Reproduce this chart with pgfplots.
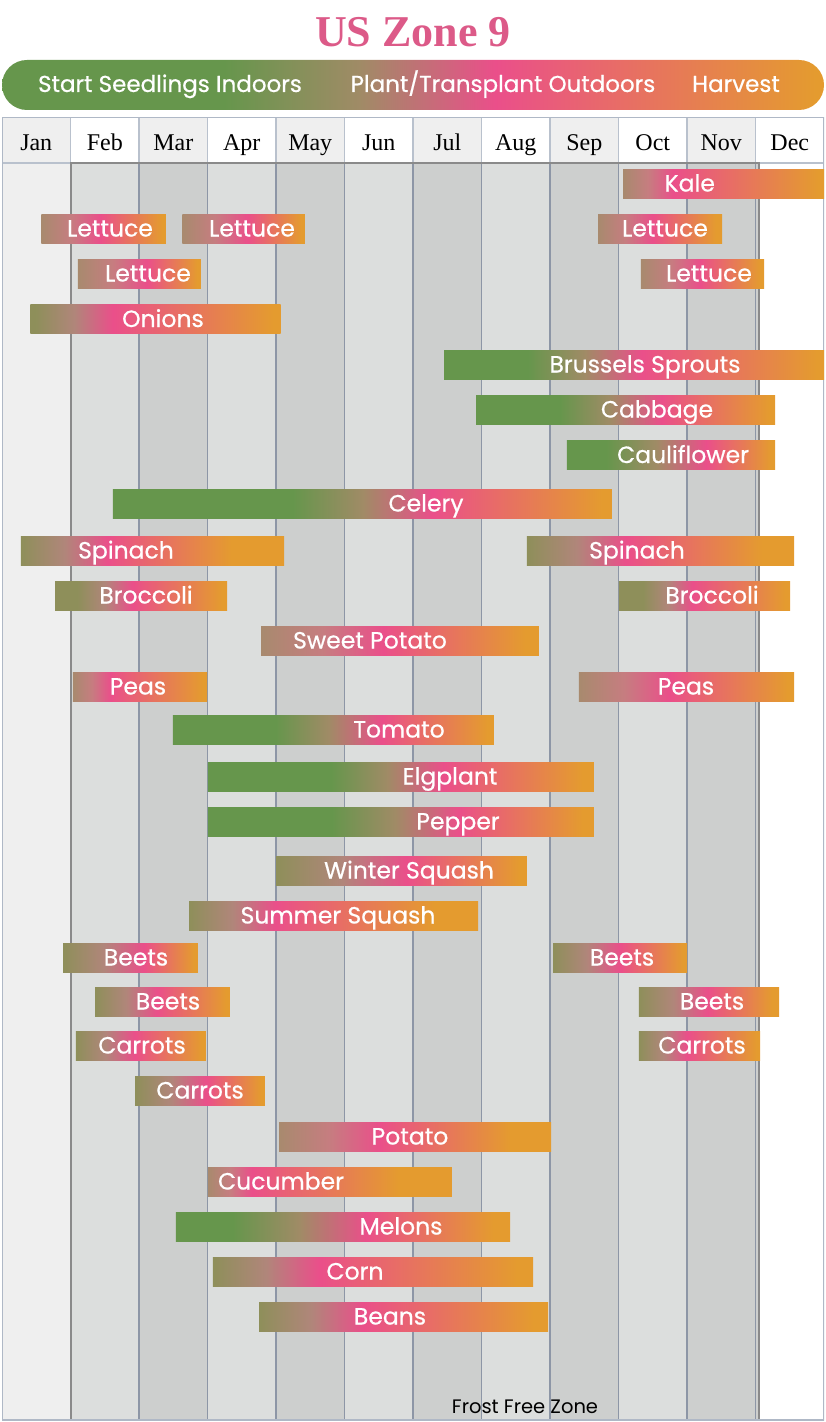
\documentclass[border=0pt]{standalone}
\usepackage{pgfplots}
\pgfplotsset{compat=1.18}
\usepackage{fontspec}
\setmainfont{Liberation Serif}
\newfontfamily\pop{Poppins}[FakeBold=0.6]
\newfontfamily\popr{Poppins}

\definecolor{cgreen}{HTML}{66964C}
\definecolor{colive}{HTML}{8E8F5A}
\definecolor{ctan}{HTML}{A88A6E}
\definecolor{cmidA}{HTML}{A08B66}
\definecolor{cmidB}{HTML}{B0867A}
\definecolor{cmidT}{HTML}{C67D80}
\definecolor{cpink}{HTML}{EA4F8A}
\definecolor{corange}{HTML}{E49B2F}
\definecolor{ctitle}{HTML}{DC5A88}
\definecolor{cjan}{HTML}{EFEFEF}
\definecolor{clight}{HTML}{DCDEDD}
\definecolor{cdark}{HTML}{CDCFCE}
\definecolor{cgridL}{HTML}{B9C1CD}
\definecolor{cgridD}{HTML}{8D96A6}
\definecolor{cframe}{HTML}{8A8A8A}
\definecolor{cborder}{HTML}{AFB8C6}

% gradient of each bar: name, start colour, middle colour, end of start colour, pink stop, orange stop (fractions of bar length)
\newcommand\defshade[6]{%
  \pgfmathsetmacro\sA{25+50*#4}%
  \pgfmathsetmacro\sM{25+50*(#4+#5)/2}%
  \pgfmathsetmacro\sP{25+50*#5}%
  \pgfmathsetmacro\sO{25+50*#6}%
  \edef\tmp{\noexpand\pgfdeclarehorizontalshading{#1}{100bp}{color(0bp)=(#2); color(\sA bp)=(#2); color(\sM bp)=(#3); color(\sP bp)=(cpink); color(\sO bp)=(corange); color(100bp)=(corange)}}\tmp}

\defshade{legshade}{cgreen}{cmidA}{0.27}{0.60}{0.99}
\defshade{kale}{ctan}{cmidT}{0}{0.25}{0.97}
\defshade{let1a}{ctan}{cmidT}{0}{0.47}{0.97}
\defshade{let1b}{ctan}{cmidT}{0}{0.53}{0.97}
\defshade{let1c}{ctan}{cmidT}{0}{0.44}{0.95}
\defshade{let2a}{ctan}{cmidT}{0}{0.56}{0.97}
\defshade{let2b}{ctan}{cmidT}{0}{0.48}{0.97}
\defshade{onions}{colive}{cmidB}{0.02}{0.33}{0.97}
\defshade{brussels}{cgreen}{cmidA}{0.22}{0.52}{0.98}
\defshade{cabbage}{cgreen}{cmidA}{0.28}{0.62}{0.98}
\defshade{cauli}{cgreen}{cmidA}{0.19}{0.67}{0.98}
\defshade{celery}{cgreen}{cmidA}{0.36}{0.64}{0.98}
\defshade{spina}{colive}{cmidB}{0}{0.33}{0.80}
\defshade{spinb}{colive}{cmidB}{0}{0.37}{0.88}
\defshade{broca}{colive}{cmidB}{0.13}{0.45}{0.97}
\defshade{brocb}{colive}{cmidB}{0.14}{0.43}{0.97}
\defshade{sweet}{ctan}{cmidT}{0}{0.44}{0.95}
\defshade{peasa}{ctan}{cmidT}{0}{0.28}{0.97}
\defshade{peasb}{ctan}{cmidT}{0}{0.42}{0.97}
\defshade{tomato}{cgreen}{cmidA}{0.32}{0.65}{0.98}
\defshade{elg}{cgreen}{cmidA}{0.32}{0.61}{0.97}
\defshade{pepper}{cgreen}{cmidA}{0.32}{0.65}{0.97}
\defshade{winter}{colive}{cmidB}{0}{0.52}{0.97}
\defshade{summer}{colive}{cmidB}{0}{0.30}{0.85}
\defshade{beetsa}{colive}{cmidB}{0}{0.60}{0.97}
\defshade{beetsb}{colive}{cmidB}{0}{0.50}{0.97}
\defshade{beetsc}{colive}{cmidB}{0}{0.46}{0.97}
\defshade{beetsd}{colive}{cmidB}{0}{0.49}{0.95}
\defshade{cara}{colive}{cmidB}{0}{0.45}{0.97}
\defshade{carb}{colive}{cmidB}{0}{0.40}{0.97}
\defshade{carc}{colive}{cmidB}{0}{0.55}{0.97}
\defshade{potato}{ctan}{cmidT}{0}{0.37}{0.85}
\defshade{cucumber}{ctan}{cmidT}{0}{0.18}{0.78}
\defshade{melons}{cgreen}{cmidA}{0.17}{0.57}{0.95}
\defshade{corn}{colive}{cmidB}{0}{0.33}{0.95}
\defshade{beans}{colive}{cmidB}{0}{0.36}{0.95}

\tikzset{barlabel/.style={font=\pop\fontsize{23.5}{27}\selectfont, text=white, anchor=base, inner sep=0pt}}

% bar: shading, start month, end month, row centre, label centre, label
\newcommand\cropbar[6]{%
  \pgfmathsetmacro\yt{#4-14.5}\pgfmathsetmacro\yb{#4+14.5}\pgfmathsetmacro\yl{#4+8}%
  \edef\tmp{\noexpand\addplot[draw=none, shade, shading=#1, forget plot] coordinates {(#2,\yt) (#3,\yt) (#3,\yb) (#2,\yb)} -- cycle;
  \noexpand\node[barlabel] at (axis cs:#5,\yl) {#6};}\tmp}

\begin{document}
\begin{tikzpicture}
\path[use as bounding box] (0pt,0pt) rectangle (826pt,1422pt);
\node[font=\bfseries\fontsize{44}{50}\selectfont, text=ctitle, anchor=base, inner sep=0pt] at (413pt,1375pt) {US Zone 9};
\shade[shading=legshade, rounded corners=25pt] (2pt,1312pt) rectangle (824pt,1362pt);
\begin{scope}[every node/.style={font=\pop\fontsize{23}{27}\selectfont, text=white, anchor=base, inner sep=0pt}]
\node at (170pt,1330pt) {Start Seedlings Indoors};
\node at (503pt,1330pt) {Plant/Transplant Outdoors};
\node at (736pt,1330pt) {Harvest};
\end{scope}
\begin{axis}[at={(2pt,2pt)}, anchor=south west, scale only axis,
  width=822pt, height=1303pt, xmin=0, xmax=12, ymin=117, ymax=1420,
  y dir=reverse, hide axis, clip=true]
% header cells
\fill[cjan] (axis cs:0,117) rectangle (axis cs:1,163);
\fill[cjan] (axis cs:2,117) rectangle (axis cs:3,163);
\fill[cjan] (axis cs:4,117) rectangle (axis cs:5,163);
\fill[cjan] (axis cs:6,117) rectangle (axis cs:7,163);
\fill[cjan] (axis cs:8,117) rectangle (axis cs:9,163);
\fill[cjan] (axis cs:10,117) rectangle (axis cs:11,163);
% body columns
\fill[cjan] (axis cs:0,163) rectangle (axis cs:1,1420);
\fill[clight] (axis cs:1,163) rectangle (axis cs:2,1420);
\fill[cdark] (axis cs:2,163) rectangle (axis cs:3,1420);
\fill[clight] (axis cs:3,163) rectangle (axis cs:4,1420);
\fill[cdark] (axis cs:4,163) rectangle (axis cs:5,1420);
\fill[clight] (axis cs:5,163) rectangle (axis cs:6,1420);
\fill[cdark] (axis cs:6,163) rectangle (axis cs:7,1420);
\fill[clight] (axis cs:7,163) rectangle (axis cs:8,1420);
\fill[cdark] (axis cs:8,163) rectangle (axis cs:9,1420);
\fill[clight] (axis cs:9,163) rectangle (axis cs:10,1420);
\fill[cdark] (axis cs:10,163) rectangle (axis cs:11.058,1420);
% grid lines
\draw[cgridL, line width=1.3pt] (axis cs:1,117) -- (axis cs:1,163);
\draw[cgridL, line width=1.3pt] (axis cs:2,117) -- (axis cs:2,163);
\draw[cgridL, line width=1.3pt] (axis cs:3,117) -- (axis cs:3,163);
\draw[cgridL, line width=1.3pt] (axis cs:4,117) -- (axis cs:4,163);
\draw[cgridL, line width=1.3pt] (axis cs:5,117) -- (axis cs:5,163);
\draw[cgridL, line width=1.3pt] (axis cs:6,117) -- (axis cs:6,163);
\draw[cgridL, line width=1.3pt] (axis cs:7,117) -- (axis cs:7,163);
\draw[cgridL, line width=1.3pt] (axis cs:8,117) -- (axis cs:8,163);
\draw[cgridL, line width=1.3pt] (axis cs:9,117) -- (axis cs:9,163);
\draw[cgridL, line width=1.3pt] (axis cs:10,117) -- (axis cs:10,163);
\draw[cgridL, line width=1.3pt] (axis cs:11,117) -- (axis cs:11,163);
\draw[cgridL, line width=1.3pt] (axis cs:0,163) -- (axis cs:1,163);
\draw[cgridL, line width=1.3pt] (axis cs:11,163) -- (axis cs:12,163);
\draw[cgridD, line width=1.3pt] (axis cs:2,163) -- (axis cs:2,1420);
\draw[cgridD, line width=1.3pt] (axis cs:3,163) -- (axis cs:3,1420);
\draw[cgridD, line width=1.3pt] (axis cs:4,163) -- (axis cs:4,1420);
\draw[cgridD, line width=1.3pt] (axis cs:5,163) -- (axis cs:5,1420);
\draw[cgridD, line width=1.3pt] (axis cs:6,163) -- (axis cs:6,1420);
\draw[cgridD, line width=1.3pt] (axis cs:7,163) -- (axis cs:7,1420);
\draw[cgridD, line width=1.3pt] (axis cs:8,163) -- (axis cs:8,1420);
\draw[cgridD, line width=1.3pt] (axis cs:9,163) -- (axis cs:9,1420);
\draw[cgridD, line width=1.3pt] (axis cs:10,163) -- (axis cs:10,1420);
\draw[cgridD, line width=1.3pt] (axis cs:11,163) -- (axis cs:11,1420);
\draw[cframe, line width=2pt] (axis cs:1,163) rectangle (axis cs:11.058,1420);
\draw[cborder, line width=1.6pt] (axis cs:0,117) rectangle (axis cs:12,1420);
% month names
\node[font=\fontsize{24}{28}\selectfont, anchor=base, inner sep=0pt] at (axis cs:0.5,150) {Jan};
\node[font=\fontsize{24}{28}\selectfont, anchor=base, inner sep=0pt] at (axis cs:1.5,150) {Feb};
\node[font=\fontsize{24}{28}\selectfont, anchor=base, inner sep=0pt] at (axis cs:2.5,150) {Mar};
\node[font=\fontsize{24}{28}\selectfont, anchor=base, inner sep=0pt] at (axis cs:3.5,150) {Apr};
\node[font=\fontsize{24}{28}\selectfont, anchor=base, inner sep=0pt] at (axis cs:4.5,150) {May};
\node[font=\fontsize{24}{28}\selectfont, anchor=base, inner sep=0pt] at (axis cs:5.5,150) {Jun};
\node[font=\fontsize{24}{28}\selectfont, anchor=base, inner sep=0pt] at (axis cs:6.5,150) {Jul};
\node[font=\fontsize{24}{28}\selectfont, anchor=base, inner sep=0pt] at (axis cs:7.5,150) {Aug};
\node[font=\fontsize{24}{28}\selectfont, anchor=base, inner sep=0pt] at (axis cs:8.5,150) {Sep};
\node[font=\fontsize{24}{28}\selectfont, anchor=base, inner sep=0pt] at (axis cs:9.5,150) {Oct};
\node[font=\fontsize{24}{28}\selectfont, anchor=base, inner sep=0pt] at (axis cs:10.5,150) {Nov};
\node[font=\fontsize{24}{28}\selectfont, anchor=base, inner sep=0pt] at (axis cs:11.5,150) {Dec};
\node[font=\popr\fontsize{19.5}{23}\selectfont, anchor=base, inner sep=0pt] at (axis cs:7.635,1413) {Frost Free Zone};
% bars
\cropbar{kale}{9.066}{12.0}{183.5}{10.04}{Kale}
\cropbar{let1a}{0.574}{2.394}{228.5}{1.577}{Lettuce}
\cropbar{let1b}{2.632}{4.423}{228.5}{3.650}{Lettuce}
\cropbar{let1c}{8.701}{10.511}{228.5}{9.679}{Lettuce}
\cropbar{let2a}{1.109}{2.905}{273.5}{2.131}{Lettuce}
\cropbar{let2b}{9.328}{11.124}{273.5}{10.321}{Lettuce}
\cropbar{onions}{0.413}{4.069}{319}{2.350}{Onions}
\cropbar{brussels}{6.453}{12.0}{364.5}{9.387}{Brussels Sprouts}
\cropbar{cabbage}{6.920}{11.285}{409.5}{9.562}{Cabbage}
\cropbar{cauli}{8.248}{11.285}{455}{9.942}{Cauliflower}
\cropbar{celery}{1.620}{8.905}{503.5}{6.190}{Celery}
\cropbar{spina}{0.277}{4.117}{550.5}{1.810}{Spinach}
\cropbar{spinb}{7.664}{11.562}{550.5}{9.270}{Spinach}
\cropbar{broca}{0.774}{3.285}{595.5}{2.102}{Broccoli}
\cropbar{brocb}{9.007}{11.504}{595.5}{10.365}{Broccoli}
\cropbar{sweet}{3.781}{7.839}{640.5}{5.372}{Sweet Potato}
\cropbar{peasa}{1.036}{2.993}{686.5}{1.985}{Peas}
\cropbar{peasb}{8.423}{11.562}{686.5}{9.985}{Peas}
\cropbar{tomato}{2.496}{7.182}{729.5}{5.796}{Tomato}
\cropbar{elg}{3.007}{8.642}{776.5}{6.540}{Elgplant}
\cropbar{pepper}{3.007}{8.642}{821.5}{6.657}{Pepper}
\cropbar{winter}{4.000}{7.664}{870.5}{5.942}{Winter Squash}
\cropbar{summer}{2.730}{6.949}{915.5}{4.905}{Summer Squash}
\cropbar{beetsa}{0.891}{2.861}{957.5}{1.956}{Beets}
\cropbar{beetsb}{8.044}{10.000}{957.5}{9.051}{Beets}
\cropbar{beetsc}{1.358}{3.328}{1001.5}{2.423}{Beets}
\cropbar{beetsd}{9.299}{11.343}{1001.5}{10.365}{Beets}
\cropbar{cara}{1.080}{2.978}{1045.5}{2.044}{Carrots}
\cropbar{carb}{9.299}{11.066}{1045.5}{10.219}{Carrots}
\cropbar{carc}{1.942}{3.839}{1090.5}{2.891}{Carrots}
\cropbar{potato}{4.044}{8.015}{1136.5}{5.956}{Potato}
\cropbar{cucumber}{3.007}{6.569}{1181.5}{4.073}{Cucumber}
\cropbar{melons}{2.540}{7.416}{1226.5}{5.825}{Melons}
\cropbar{corn}{3.080}{7.752}{1271.5}{5.153}{Corn}
\cropbar{beans}{3.752}{7.971}{1316.5}{5.664}{Beans}
\end{axis}
\end{tikzpicture}
\end{document}
